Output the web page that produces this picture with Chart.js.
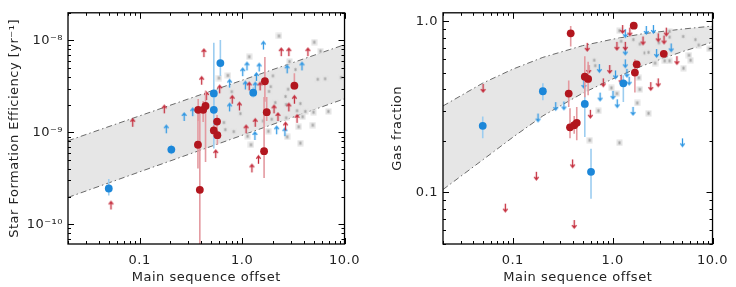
<!DOCTYPE html>
<html>
<head>
<meta charset="utf-8">
<script src="https://cdn.jsdelivr.net/npm/chart.js@4.4.1/dist/chart.umd.min.js"></script>
<style>
  body { margin: 0; background: #fff; }
  canvas { position: absolute; top: 0; }
</style>
</head>
<body>
<canvas id="sfeChart" width="368" height="287" style="left:0"></canvas>
<canvas id="fgasChart" width="368" height="287" style="left:368px"></canvas>
<script>
// axis ticks
const xTicks = [0.1, 1, 10];
const xTickLabels = ['0.1', '1.0', '10.0'];
const sfeTicks = [1e-10, 1e-9, 1e-8];
const sfeTickLabels = ['10\u207B\u00B9\u2070', '10\u207B\u2079', '10\u207B\u2078'];
const fgasTicks = [0.1, 1];
const fgasTickLabels = ['0.1', '1.0'];

// shaded model bands
const sfeBandX = [0.02, 10];
const sfeBandHigh = [8.1e-10, 9.0e-9];
const sfeBandLow = [1.96e-10, 2.32e-9];
const fgasBandX = [0.02, 0.05, 0.1, 0.2, 0.5, 1, 2, 5, 10];
const fgasBandHigh = [0.32, 0.435, 0.525, 0.615, 0.72, 0.785, 0.845, 0.9, 0.937];
const fgasBandLow = [0.104, 0.155, 0.21, 0.28, 0.38, 0.46, 0.55, 0.665, 0.755];

// star formation efficiency: [x, y, low, high]
const sfeRed = [
  [1.67, 3.6e-9, 2.15e-9, 6.6e-9], [1.74, 1.66e-9, 1.33e-9, 2.42e-9],
  [1.64, 6.25e-10, 3.18e-10, 2.42e-9], [3.24, 3.22e-9, 2.9e-9, 4.39e-9],
  [0.373, 1.76e-9, 1.33e-9, 2.31e-9], [0.417, 1.76e-9, 1.3e-9, 2.2e-9],
  [0.44, 1.94e-9, 4.77e-10, 2.86e-9], [0.57, 1.31e-9, 1.1e-9, 1.55e-9],
  [0.53, 1.05e-9, 9.0e-10, 1.2e-9], [0.574, 9.31e-10, 7.33e-10, 1.05e-9],
  [0.371, 7.33e-10, 4.04e-10, 1.76e-9], [0.387, 2.37e-10, 5e-11, 1.9e-9]
];
const sfeBlue = [
  [0.05, 2.45e-10, 2.06e-10, 3.1e-10], [0.204, 6.5e-10, 5.78e-10, 7.33e-10],
  [0.614, 5.67e-9, 4.1e-9, 1.01e-8], [0.53, 2.65e-9, 1.77e-9, 9.42e-9],
  [0.53, 1.76e-9, 6.67e-10, 2.65e-9], [1.285, 2.7e-9, 2.4e-9, 3.1e-9]
];
// lower limits [x, y]
const sfeRedLimits = [
  [0.0856, 1.15e-9], [0.174, 1.61e-9], [0.0525, 1.45e-10], [0.424, 6.59e-9],
  [0.403, 3.3e-9], [0.604, 2.66e-9], [0.45, 2.25e-9], [0.801, 2.05e-9],
  [0.942, 1.73e-9], [2.41, 6.75e-9], [2.86, 6.75e-9], [4.39, 6.75e-9],
  [3.24, 2.05e-9], [2.05, 1.61e-9], [2.24, 1.33e-9], [2.86, 1.69e-9],
  [3.44, 1.27e-9], [1.343, 1.15e-9], [1.094, 9.77e-10], [2.655, 1.05e-9],
  [0.553, 5.25e-10], [1.445, 4.55e-10], [1.248, 3.67e-10], [1.175, 2.86e-9],
  [1.5, 2.86e-9]
];
const sfeBlueLimits = [
  [0.272, 1.33e-9], [0.33, 1.5e-9], [0.755, 1.69e-9], [0.755, 3.07e-9],
  [1.014, 4.09e-9], [1.117, 4.72e-9], [1.468, 4.6e-9], [1.615, 7.97e-9],
  [1.38, 3.63e-9], [1.077, 2.93e-9], [1.343, 2.86e-9], [2.754, 4.39e-9],
  [3.84, 4.72e-9], [1.334, 8.26e-10], [2.177, 9.53e-10], [2.618, 9.09e-10],
  [0.182, 9.77e-10]
];
const sfeOthers = [
  [2.29, 1.12e-8], [5.06, 9.58e-9], [1.175, 6.64e-9], [5.82, 7.65e-9],
  [2.9, 5.89e-9], [0.727, 4.16e-9], [0.595, 3.9e-9], [3.32, 4.83e-9],
  [2.0, 4.12e-9], [5.48, 3.78e-9], [6.46, 3.83e-9], [9.27, 3.96e-9],
  [0.794, 2.77e-9], [1.905, 3.14e-9], [1.834, 2.79e-9], [2.815, 2.95e-9],
  [2.655, 2.46e-9], [2.692, 2.01e-9], [2.11, 2.11e-9], [3.705, 2.06e-9],
  [4.14, 1.69e-9], [4.98, 1.66e-9], [6.95, 1.69e-9], [0.963, 1.6e-9],
  [0.665, 1.28e-9], [0.686, 1.07e-9], [0.83, 1.02e-9], [1.132, 9.09e-10],
  [1.221, 7.33e-10], [1.805, 1.03e-9], [1.604, 1.33e-9], [1.946, 1.39e-9],
  [3.44, 1.72e-9], [3.57, 1.15e-9], [3.9, 1.48e-9], [2.754, 8.94e-10],
  [3.705, 7.64e-10], [4.9, 1.2e-9], [2.692, 1.44e-9]
];

// gas fraction: [x, y, low, high]
const fgasRed = [
  [0.38, 0.85, 0.711, 0.938], [1.626, 0.942, 0.92, 0.96],
  [3.25, 0.645, 0.63, 0.66], [1.74, 0.56, 0.54, 0.58],
  [1.67, 0.501, 0.383, 0.599], [0.526, 0.474, 0.36, 0.625],
  [0.568, 0.46, 0.37, 0.58], [0.363, 0.378, 0.316, 0.45],
  [0.374, 0.24, 0.207, 0.31], [0.412, 0.247, 0.22, 0.28],
  [0.437, 0.255, 0.202, 0.316]
];
const fgasBlue = [
  [0.05, 0.245, 0.207, 0.278], [0.2, 0.39, 0.346, 0.435],
  [1.279, 0.434, 0.337, 0.484], [0.526, 0.329, 0.211, 0.408],
  [0.607, 0.132, 0.092, 0.18]
];
// upper limits [x, y]
const fgasRedLimits = [
  [0.0504, 0.43], [1.259, 0.95], [1.485, 0.918], [0.556, 0.748],
  [1.102, 0.758], [1.337, 0.758], [2.014, 0.815], [2.858, 0.85],
  [3.27, 0.825], [3.443, 0.918], [4.4, 0.625], [0.935, 0.555],
  [1.215, 0.484], [0.805, 0.464], [2.408, 0.441], [2.858, 0.464],
  [0.598, 0.304], [0.576, 0.555], [0.397, 0.156], [0.412, 0.069],
  [0.172, 0.132], [0.0842, 0.086]
];
const fgasBlueLimits = [
  [2.172, 0.938], [2.559, 0.95], [1.337, 0.899], [1.337, 0.711],
  [2.753, 0.688], [3.85, 0.742], [1.337, 0.599], [1.389, 0.527],
  [0.736, 0.562], [1.069, 0.516], [1.462, 0.474], [0.515, 0.454],
  [0.748, 0.383], [1.007, 0.392], [1.111, 0.35], [0.269, 0.337],
  [0.325, 0.34], [1.6, 0.316], [5.0, 0.207], [0.179, 0.289]
];
const fgasOthers = [
  [1.17, 0.88], [3.716, 0.872], [5.08, 0.815], [6.74, 0.781],
  [3.716, 0.808], [1.215, 0.764], [1.611, 0.781], [1.871, 0.736],
  [2.904, 0.748], [2.091, 0.653], [2.286, 0.658], [7.27, 0.726],
  [9.29, 0.69], [5.81, 0.633], [0.654, 0.592], [0.669, 0.55],
  [2.657, 0.57], [3.321, 0.587], [3.716, 0.587], [6.03, 0.592],
  [5.12, 0.532], [1.829, 0.468], [1.871, 0.4], [0.971, 0.408],
  [1.102, 0.378], [0.72, 0.3], [1.762, 0.333], [2.286, 0.29],
  [0.589, 0.202], [1.17, 0.195]
];

const RED = '#b2161e';
const BLUE = '#1c87d9';
const RED_ERR = '#e49aa0';
const BLUE_ERR = '#9ccdf0';
const RED_ARROW = '#c42a3a';
const BLUE_ARROW = '#2f97e3';
const FONT = { family: 'DejaVu Sans', size: 13 };
const TEXT = '#222';

// little marker images
function arrowImage(color, up) {
  const c = document.createElement('canvas');
  c.width = 9; c.height = 20;
  const g = c.getContext('2d');
  g.strokeStyle = color;
  g.lineWidth = 1.3;
  g.beginPath();
  if (up) {
    g.moveTo(4.5, 10); g.lineTo(4.5, 2);
    g.moveTo(2.3, 4.8); g.lineTo(4.5, 2); g.lineTo(6.7, 4.8);
  } else {
    g.moveTo(4.5, 10); g.lineTo(4.5, 18);
    g.moveTo(2.3, 15.2); g.lineTo(4.5, 18); g.lineTo(6.7, 15.2);
  }
  g.stroke();
  return c;
}

function starImage() {
  const c = document.createElement('canvas');
  c.width = 7; c.height = 7;
  const g = c.getContext('2d');
  g.fillStyle = '#e3e3e3';
  g.fillRect(0.5, 0.5, 6, 6);
  g.strokeStyle = '#a0a0a0';
  g.lineWidth = 0.7;
  g.beginPath();
  g.moveTo(3.5, 1.8); g.lineTo(3.5, 5.2);
  g.moveTo(2, 2.6); g.lineTo(5, 4.4);
  g.moveTo(2, 4.4); g.lineTo(5, 2.6);
  g.stroke();
  return c;
}

const pts = (rows) => rows.map(r => ({ x: r[0], y: r[1] }));
const band = (xs, ys) => xs.map((x, i) => ({ x: x, y: ys[i] }));

// slightly spaced lettering, like the original plot
const spacing = {
  id: 'spacing',
  beforeInit(chart) { chart.ctx.letterSpacing = '0.5px'; },
  beforeDraw(chart) { chart.ctx.letterSpacing = '0.5px'; }
};

// vertical error bars drawn just before their points
const errorBars = {
  id: 'errorBars',
  beforeDatasetDraw(chart, args) {
    const ds = chart.data.datasets[args.index];
    if (!ds.errorRows) return;
    const { ctx, chartArea: a, scales } = chart;
    ctx.save();
    ctx.beginPath();
    ctx.rect(a.left, a.top, a.width, a.height);
    ctx.clip();
    ctx.strokeStyle = ds.errorColor;
    ctx.lineWidth = 1.6;
    ds.errorRows.forEach(r => {
      const px = scales.x.getPixelForValue(r[0]);
      ctx.beginPath();
      ctx.moveTo(px, scales.y.getPixelForValue(r[2]));
      ctx.lineTo(px, scales.y.getPixelForValue(r[3]));
      ctx.stroke();
    });
    ctx.restore();
  }
};

function logMarks(scale) {
  const out = [];
  const lo = Math.floor(Math.log10(scale.min));
  const hi = Math.ceil(Math.log10(scale.max));
  for (let k = lo; k <= hi; k++) {
    for (let m = 1; m <= 9; m++) {
      const v = m * Math.pow(10, k);
      if (v >= scale.min * 0.999 && v <= scale.max * 1.001) out.push({ v: v, major: m === 1 });
    }
  }
  return out;
}

// box round the plot with inward ticks on all four sides
const frame = {
  id: 'frame',
  afterDatasetsDraw(chart) {
    const { ctx, chartArea: a, scales: { x, y } } = chart;
    ctx.save();
    ctx.strokeStyle = '#000';
    ctx.lineWidth = 1.3;
    ctx.strokeRect(a.left, a.top, a.width, a.height);
    ctx.lineWidth = 1;
    ctx.beginPath();
    logMarks(x).forEach(t => {
      const px = Math.round(x.getPixelForValue(t.v)) + 0.5;
      const len = t.major ? 6 : 3;
      ctx.moveTo(px, a.bottom); ctx.lineTo(px, a.bottom - len);
      ctx.moveTo(px, a.top); ctx.lineTo(px, a.top + len);
    });
    logMarks(y).forEach(t => {
      const py = Math.round(y.getPixelForValue(t.v)) + 0.5;
      const len = t.major ? 6 : 3;
      ctx.moveTo(a.left, py); ctx.lineTo(a.left + len, py);
      ctx.moveTo(a.right, py); ctx.lineTo(a.right - len, py);
    });
    ctx.stroke();
    ctx.restore();
  }
};

function makePanel(id, p) {
  const upImg = arrowImage(RED_ARROW, p.up);
  const upImgB = arrowImage(BLUE_ARROW, p.up);
  const star = starImage();
  return new Chart(document.getElementById(id), {
    type: 'scatter',
    data: {
      datasets: [
        { type: 'line', data: band(p.bandX, p.bandHigh), fill: '+1', backgroundColor: '#e6e6e6',
          borderColor: '#6a6a6a', borderWidth: 1, borderDash: [6, 3, 1.5, 3], pointRadius: 0, order: 10 },
        { type: 'line', data: band(p.bandX, p.bandLow), fill: false,
          borderColor: '#6a6a6a', borderWidth: 1, borderDash: [6, 3, 1.5, 3], pointRadius: 0, order: 9 },
        { data: pts(p.others), pointStyle: star, pointRadius: 4, order: 8 },
        { data: pts(p.blueLimits), pointStyle: upImgB, pointRadius: 5, order: 7 },
        { data: pts(p.redLimits), pointStyle: upImg, pointRadius: 5, order: 6 },
        { data: pts(p.blue), errorRows: p.blue, errorColor: BLUE_ERR, pointStyle: 'circle',
          pointRadius: 3.9, backgroundColor: BLUE, borderWidth: 0, order: 5 },
        { data: pts(p.red), errorRows: p.red, errorColor: RED_ERR, pointStyle: 'circle',
          pointRadius: 3.9, backgroundColor: RED, borderWidth: 0, order: 4 }
      ]
    },
    options: {
      responsive: false,
      animation: false,
      events: [],
      layout: { padding: { top: 1, right: p.padRight, left: 0, bottom: 0 } },
      plugins: { legend: { display: false }, tooltip: { enabled: false } },
      scales: {
        x: {
          type: 'logarithmic', min: 0.02, max: 10, bounds: 'data',
          grid: { display: false, drawTicks: false }, border: { display: false },
          afterBuildTicks: s => { s.ticks = xTicks.map(v => ({ value: v })); },
          afterFit: s => { s.height = 43; },
          ticks: { callback: (v, i) => xTickLabels[i], padding: 9, font: FONT, color: TEXT,
                   maxRotation: 0, autoSkip: false },
          title: { display: true, text: 'Main sequence offset', font: FONT, color: TEXT,
                   padding: { top: 0, bottom: 2 } }
        },
        y: {
          type: 'logarithmic', min: p.yMin, max: p.yMax, bounds: 'data',
          grid: { display: false, drawTicks: false }, border: { display: false },
          afterBuildTicks: s => { s.ticks = p.yTicks.map(v => ({ value: v })); },
          afterFit: s => { s.width = p.yWidth; },
          ticks: { callback: (v, i) => p.yTickLabels[i], padding: 5, font: FONT, color: TEXT,
                   autoSkip: false },
          title: { display: true, text: p.yTitle, font: FONT, color: TEXT,
                   padding: { top: p.titlePad, bottom: 0 } }
        }
      }
    },
    plugins: [spacing, errorBars, frame]
  });
}

makePanel('sfeChart', {
  bandX: sfeBandX, bandHigh: sfeBandHigh, bandLow: sfeBandLow,
  red: sfeRed, blue: sfeBlue, redLimits: sfeRedLimits, blueLimits: sfeBlueLimits,
  others: sfeOthers, up: true,
  yMin: 6.1e-11, yMax: 2.0e-8, yTicks: sfeTicks, yTickLabels: sfeTickLabels,
  yTitle: 'Star Formation Efficiency [yr\u207B\u00B9]', yWidth: 68, titlePad: 7, padRight: 22
});

makePanel('fgasChart', {
  bandX: fgasBandX, bandHigh: fgasBandHigh, bandLow: fgasBandLow,
  red: fgasRed, blue: fgasBlue, redLimits: fgasRedLimits, blueLimits: fgasBlueLimits,
  others: fgasOthers, up: false,
  yMin: 0.05, yMax: 1.12, yTicks: fgasTicks, yTickLabels: fgasTickLabels,
  yTitle: 'Gas fraction', yWidth: 75, titlePad: 22, padRight: 15
});
</script>
</body>
</html>
